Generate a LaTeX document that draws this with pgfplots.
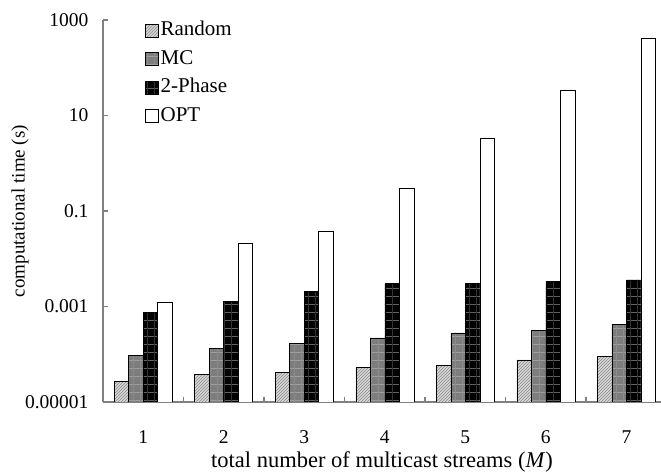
\documentclass[border=0pt]{standalone}
\usepackage{fontspec}
\setmainfont{Liberation Serif}
\usepackage{pgfplots}
\pgfplotsset{compat=1.18}
\usetikzlibrary{patterns, patterns.meta, calc}

\definecolor{axisgray}{RGB}{128,128,128}
\definecolor{mcgray}{RGB}{125,125,125}
\definecolor{randgray}{RGB}{215,215,215}

\begin{document}
\begin{tikzpicture}
\begin{axis}[
  scale only axis,
  width=558pt, height=382pt,
  ymode=log, log origin=infty,
  ymin=1e-5, ymax=1000,
  xmin=0.5, xmax=7.43,
  ybar=0pt, bar width=14.5pt,
  axis lines*=left,
  axis line style={draw=axisgray, line width=1.6pt},
  xtick={1,2,3,4,5,6,7},
  major x tick style={draw=none},
  minor xtick={1.5,2.5,3.5,4.5,5.5,6.5},
  minor x tick style={draw=axisgray, line width=1.4pt},
  minor tick length=5pt,
  ytick={1e-5,1e-3,0.1,10,1000},
  yticklabels={0.00001,0.001,0.1,10,1000},
  minor ytick={},
  ytick style={draw=axisgray, line width=1.2pt},
  major tick length=5pt,
  tick align=inside,
  /pgf/number format/assume math mode=true,
  tick label style={font=\fontsize{19.5}{22}\selectfont},
  yticklabel style={anchor=east, xshift=-11pt},
  xticklabel style={anchor=center, yshift=-35pt},
  xlabel={total number of multicast streams (\textit{M})},
  ylabel={computational time (s)},
  xlabel style={font=\fontsize{22.5}{26}\selectfont, at={(axis description cs:0.5,0)}, anchor=center, yshift=-60pt},
  ylabel style={font=\fontsize{19}{22}\selectfont, at={(axis description cs:-0.1487,0.5)}, anchor=center},
  legend style={at={(0.075,0.999)}, anchor=north west, draw=none, fill=none,
    font=\fontsize{21}{24}\selectfont, row sep=8.5pt, inner sep=0pt,
    legend cell align=left,
    nodes={inner sep=0pt, text height=15pt, text depth=5pt},
    /tikz/every odd column/.append style={column sep=2pt}},
  legend image code/.code={\draw[#1, line width=0.6pt] (0pt,-6.5pt) rectangle (13pt,6.5pt);},
  every axis plot/.append style={draw=black, line width=0.6pt},
]
\addplot[fill=randgray, postaction={pattern=north east lines, pattern color=black!45}]
  coordinates {(1,2.75e-5) (2,3.8e-5) (3,4.1e-5) (4,5.4e-5) (5,5.9e-5) (6,7.6e-5) (7,9.1e-5)};
\addlegendentry{Random}
\addplot[fill=mcgray,
  postaction={pattern={Lines[angle=0,distance=8pt,line width=0.5pt]}, pattern color=black!38},
  postaction={pattern={Lines[angle=90,distance=7pt,line width=0.3pt]}, pattern color=black!45}]
  coordinates {(1,9.6e-5) (2,1.35e-4) (3,1.66e-4) (4,2.2e-4) (5,2.8e-4) (6,3.2e-4) (7,4.3e-4)};
\addlegendentry{MC}
\addplot[fill=black,
  postaction={pattern={Lines[angle=0,distance=8pt,line width=0.6pt]}, pattern color=black!62},
  postaction={pattern={Lines[angle=90,distance=7pt,line width=0.3pt]}, pattern color=black!80}]
  coordinates {(1,7.4e-4) (2,1.3e-3) (3,2.06e-3) (4,3.0e-3) (5,3.0e-3) (6,3.3e-3) (7,3.6e-3)};
\addlegendentry{2-Phase}
\addplot[fill=white]
  coordinates {(1,1.2e-3) (2,0.021) (3,0.037) (4,0.30) (5,3.3) (6,34) (7,420)};
\addlegendentry{OPT}
\end{axis}
\pgfresetboundingbox
\path ($(current axis.south west)+(-103pt,-70pt)$) rectangle ($(current axis.north east)+(0pt,20pt)$);
\end{tikzpicture}
\end{document}
